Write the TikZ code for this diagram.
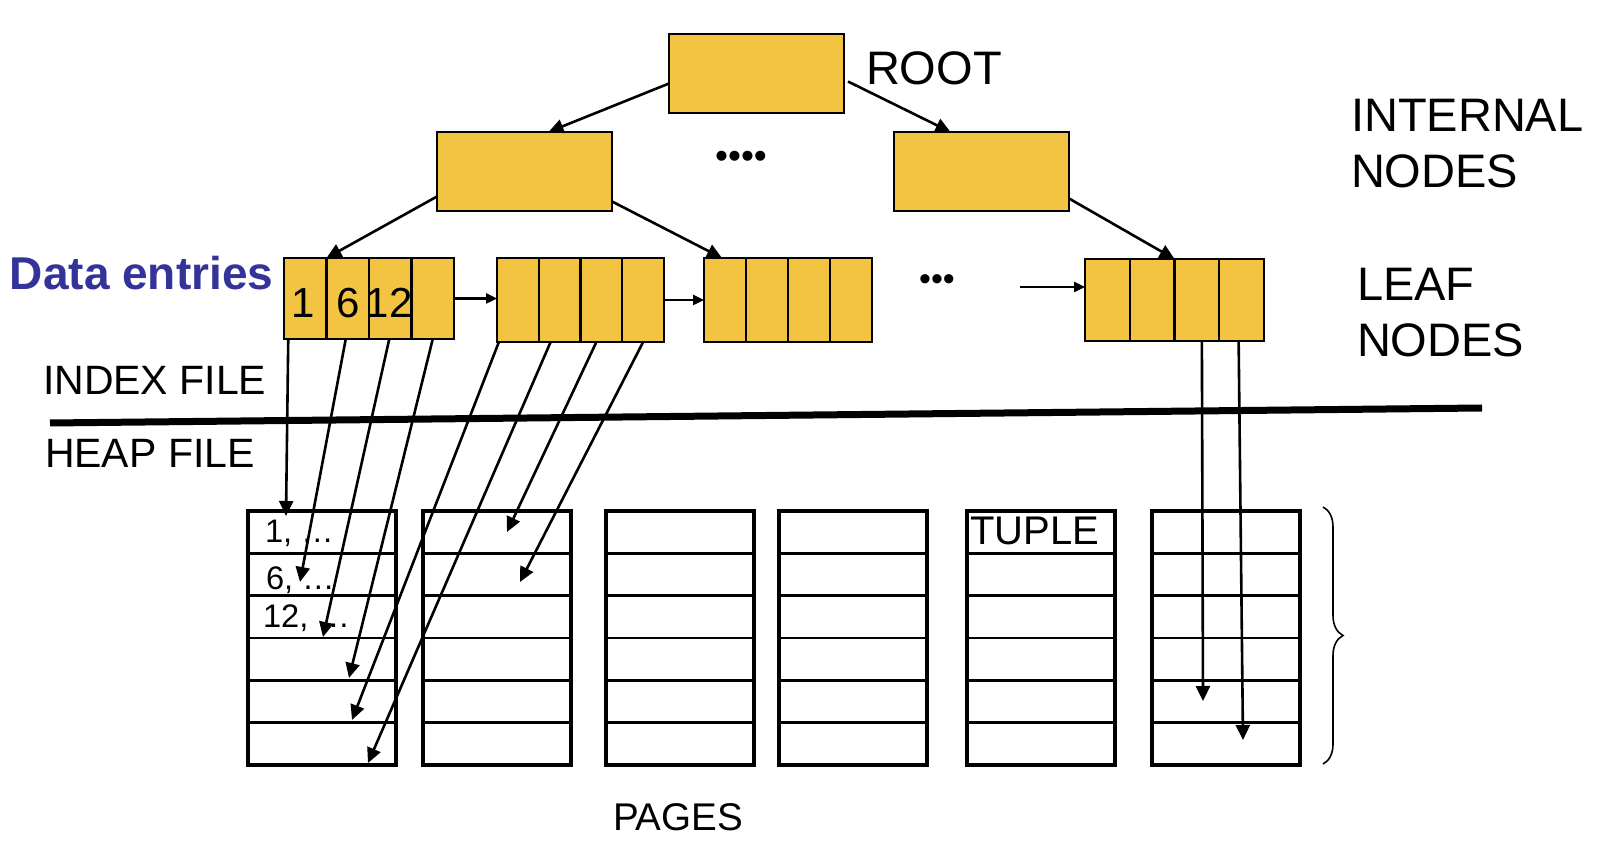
\documentclass[tikz,border=0pt]{standalone}
\usepackage{fontspec}
\setmainfont{Liberation Sans}
\usetikzlibrary{arrows.meta,calc,decorations.pathreplacing}
\definecolor{gold}{RGB}{243,196,66}
\definecolor{dblue}{RGB}{51,51,153}
\begin{document}
\begin{tikzpicture}[x=0.5pt,y=-0.5pt,
  box/.style={draw=black, fill=gold, line width=1.1pt, inner sep=0pt, outer sep=0pt, anchor=north west, minimum width=87.5pt, minimum height=39.5pt},
  cell/.style={draw=black, fill=gold, line width=1.1pt, inner sep=0pt, outer sep=0pt, anchor=north west},
  leafrim/.style={draw=black, line width=1.4pt},
  row/.style={draw=black, line width=1.2pt, inner sep=0pt, outer sep=0pt, anchor=north west, minimum width=74pt, minimum height=21.17pt},
  pagerim/.style={draw=black, line width=1.8pt},
  arr/.style={line width=1.3pt, -{Triangle[length=7.5pt,width=7pt]}},
  link/.style={line width=1.2pt, -{Triangle[length=5.5pt,width=5pt]}},
  biglbl/.style={inner sep=0pt, outer sep=0pt, anchor=north west, align=left, font=\fontsize{23.5pt}{28pt}\selectfont},
  midlbl/.style={inner sep=0pt, outer sep=0pt, anchor=base west, font=\fontsize{20.5pt}{24pt}\selectfont},
  smalllbl/.style={inner sep=0pt, outer sep=0pt, anchor=base west, font=\fontsize{16.3pt}{19pt}\selectfont},
  digit/.style={inner sep=0pt, outer sep=0pt, anchor=base, font=\fontsize{21pt}{24pt}\selectfont},
  dotlbl/.style={inner sep=0pt, outer sep=0pt, anchor=center}
]
\useasboundingbox (0,0) rectangle (1600,854);

% tree boxes
\node[box] (root) at (669,34) {};
\node[box] (int1) at (437,132) {};
\node[box] (int2) at (894,132) {};

% leaves
\foreach \L/\x/\y/\w/\h in {1/284/258/42.5/81, 2/497/258/41.75/84, 3/704/258/42/84, 4/1085/259/44.75/82} {
  \foreach \c in {1,...,4} {
    \node[cell, minimum width=\w*0.5pt, minimum height=\h*0.5pt] (L\L-\c) at ({\x+(\c-1)*\w},\y) {};
  }
  \draw[leafrim] (L\L-1.north west) rectangle (L\L-4.south east);
}

% pages
\foreach \P/\x in {1/248,2/423,3/606,4/779,5/967,6/1152} {
  \foreach \r in {1,...,6} {
    \node[row] (P\P-\r) at (\x,{511+(\r-1)*42.33}) {};
  }
  \draw[pagerim] (P\P-1.north west) rectangle (P\P-6.south east);
}

% labels
\node[inner sep=0pt, outer sep=0pt, anchor=base west, font=\fontsize{23.5pt}{28pt}\selectfont] (rootlbl) at (866,85) {ROOT};
\node[biglbl] (intlbl) at (1351,99) {INTERNAL\\NODES};
\node[biglbl] (leaflbl) at (1357,268) {LEAF\\NODES};
\node[inner sep=0pt, outer sep=0pt, anchor=base west, text=dblue, font=\fontsize{23pt}{28pt}\selectfont\bfseries] (datalbl) at (10,290) {Data entries};
\node[midlbl] (indexlbl) at (43,395) {INDEX FILE};
\node[midlbl] (heaplbl) at (45,468) {HEAP FILE};
\node[midlbl, font=\fontsize{19.3pt}{22pt}\selectfont] (pageslbl) at (613,830) {PAGES};
\node[midlbl, font=\fontsize{20pt}{24pt}\selectfont] (tuplelbl) at (970,545) {TUPLE};
\node[smalllbl] (t1) at (265,543) {1, …};
\node[smalllbl] (t6) at (266,590) {6, …};
\node[smalllbl] (t12) at (263,628) {12, …};
\node[digit] (d1) at ($(L1-1.south)+(-2,-21)$) {1};
\node[digit] (d6) at ($(L1-2.south)+(0,-21)$) {6};
\node[digit] (d12) at ($(L1-3.south)+(-1,-21)$) {12};
\node[dotlbl, font=\fontsize{18.5pt}{20pt}\selectfont] (dots4) at (741,160) {••••};
\node[dotlbl, font=\fontsize{17pt}{18pt}\selectfont] (dots3) at (937,283) {•••};

% separator
\draw[line width=3.5pt] (50,423) -- (1482,408);

% brace
\draw[line width=0.8pt, decorate, decoration={brace, amplitude=10pt}] (1323,507) -- (1323,764);

% tree arrows
\draw[arr] ($(root.west)+(0,10)$) -- ($(int1.north)+(24,0)$);
\draw[arr] ($(root.east)+(4,8)$) -- ($(int2.north)+(-31,0)$);
\draw[arr] ($(int1.west)+(0,25)$) -- (L1-1.north east);
\draw[arr] ($(int1.east)+(0,30)$) -- ($(L3-1.north)+(-3,0)$);
\draw[arr] ($(int2.east)+(0,27)$) -- (L4-2.north east);

% sibling links
\draw[link] (L1-4.east) -- (L1-4.east -| L2-1.west);
\draw[link] (L2-4.east) -- (L2-4.east -| L3-1.west);
\coordinate (l4in) at (1020,287);
\draw[link] (l4in) -- (l4in -| L4-1.west);

% record pointers
\draw[arr] ($(L1-1.south)+(-17,0)$) -- ($(P1-1.north west)+(38,5)$);
\draw[arr] ($(L1-2.south)+(-2,0)$) -- ($(P1-1.north west)+(52,71)$);
\draw[arr] ($(L1-3.south)+(-1,0)$) -- ($(P1-1.north west)+(75,126)$);
\draw[arr] (L1-4.south) -- ($(P1-1.north west)+(101,167)$);
\draw[arr] ($(L2-1.south)+(-19,0)$) -- ($(P1-1.north west)+(104,209)$);
\draw[arr] ($(L2-2.south)+(-9,0)$) -- ($(P1-1.north west)+(120,252)$);
\draw[arr] ($(L2-3.south)+(-5,0)$) -- ($(P2-1.north west)+(84,21)$);
\draw[arr] (L2-4.south) -- ($(P2-1.north west)+(97,71)$);
\draw[arr] ($(L4-3.south)+(5,0)$) -- ($(P6-1.north west)+(51,190)$);
\draw[arr] ($(L4-4.south)+(-3,0)$) -- ($(P6-1.north west)+(91,229)$);
\end{tikzpicture}
\end{document}
